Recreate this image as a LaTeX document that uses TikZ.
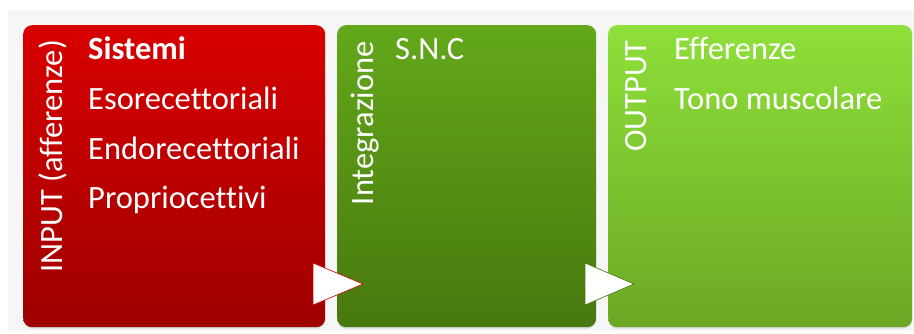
\documentclass[tikz,border=0pt]{standalone}
\usepackage{fontspec}
\setmainfont{Carlito}[Ligatures=NoCommon]
\usetikzlibrary{shadows}

\definecolor{redtop}{RGB}{216,0,0}
\definecolor{redbot}{RGB}{158,0,0}
\definecolor{darktop}{RGB}{99,168,26}
\definecolor{darkbot}{RGB}{72,120,14}
\definecolor{lighttop}{RGB}{142,224,58}
\definecolor{lightbot}{RGB}{108,168,36}
\definecolor{bgband}{RGB}{246,246,246}

\tikzset{
  box/.style={rectangle, rounded corners=9pt, inner sep=0pt, anchor=north west,
    minimum height=302pt, drop shadow={shadow xshift=0pt, shadow yshift=-1.5pt, opacity=0.25}},
  title/.style={rotate=90, anchor=base east, text=white, inner sep=0pt,
    font=\fontsize{32.5}{32.5}\selectfont},
  item/.style={anchor=base west, text=white, inner sep=0pt,
    font=\fontsize{32.5}{32.5}\selectfont},
  chevron/.style={fill=white, line width=0.6pt, line join=miter}
}

\begin{document}
\begin{tikzpicture}[x=1pt, y=-1pt]
  \useasboundingbox (0,0) rectangle (914,334);
  \fill[bgband] (8,10) rectangle (914,331);

  % Boxes
  \node[box, top color=redtop, bottom color=redbot, minimum width=302pt] (input) at (23,25) {};
  \node[box, top color=darktop, bottom color=darkbot, minimum width=259pt] (integr) at (337,25) {};
  \node[box, top color=lighttop, bottom color=lightbot, minimum width=304pt] (output) at (608,25) {};

  % Side titles
  \node[title] (inputlbl) at (62,40) {INPUT (afferenze)};
  \node[title] (integrlbl) at (373,41) {Integrazione};
  \node[title] (outputlbl) at (646,40) {OUTPUT};

  % Entries
  \node[item] (sistemi) at (88,60) {\textbf{Sistemi}};
  \node[item] (eso) at (88,110) {Esorecettoriali};
  \node[item] (endo) at (88,160) {Endorecettoriali};
  \node[item] (proprio) at (88,209) {Propriocettivi};

  \node[item] (snc) at (395,60) {S.N.C};

  \node[item] (efferenze) at (674,60) {Efferenze};
  \node[item] (tono) at (674,110) {Tono muscolare};

  % Arrows between boxes
  \draw[chevron, draw=red!80!black] (313,263) -- (363,284) -- (313,305) -- cycle;
  \draw[chevron, draw=darkbot] (585,263) -- (634,284) -- (585,305) -- cycle;
\end{tikzpicture}
\end{document}
